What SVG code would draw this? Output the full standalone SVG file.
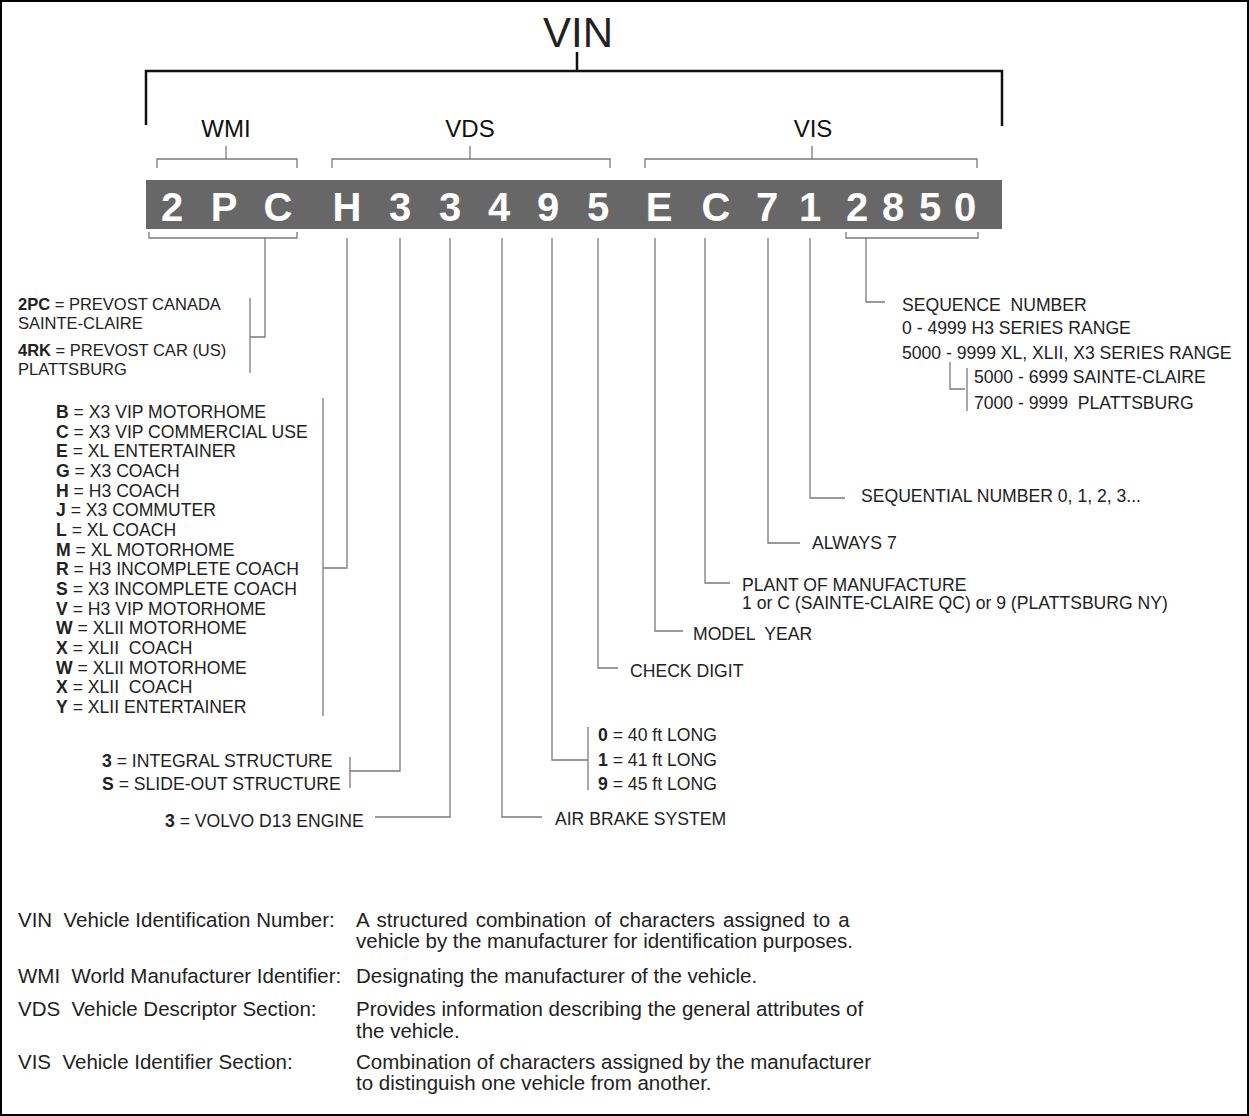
<svg xmlns="http://www.w3.org/2000/svg" width="1249" height="1116" viewBox="0 0 1249 1116">
<defs>
<style>
.t{font-family:"Liberation Sans",Arial,sans-serif;fill:#222;}
.s{font-size:17.6px;}
.w{font-size:16.5px;}
.d{font-size:20.5px;}
.h{font-size:24px;fill:#111;}
.b{font-weight:bold;}
.p{white-space:pre;}
.c{font-family:"Liberation Sans",Arial,sans-serif;font-size:40px;font-weight:bold;fill:#fff;text-anchor:middle;}
.ln{fill:none;stroke:#7a7a7a;stroke-width:1.3;}
.bk{fill:none;stroke:#111;stroke-width:2.5;}
</style>
</defs>
<rect x="1" y="1" width="1247" height="1114" fill="#fff" stroke="#000" stroke-width="2"/>

<g id="vin-header">
<text class="t" x="578" y="47" font-size="42" text-anchor="middle" fill="#111">VIN</text>
<path class="bk" d="M146,125 V71 H1002 V126 M577,52 V71"/>
</g>

<g id="section-labels">
<text class="t h" x="226" y="137" text-anchor="middle">WMI</text>
<text class="t h" x="470" y="137" text-anchor="middle">VDS</text>
<text class="t h" x="813" y="137" text-anchor="middle">VIS</text>
<path class="ln" d="M157,168 V159 H297 V168 M226,146 V159"/>
<path class="ln" d="M332,168 V159 H610 V168 M470,146 V159"/>
<path class="ln" d="M645,168 V159 H977 V168 M812,146 V159"/>
</g>

<g id="vin-bar">
<rect x="146" y="180" width="856" height="49" fill="#676767"/>
<text class="c" x="172" y="221">2</text>
<text class="c" x="224" y="221">P</text>
<text class="c" x="278" y="221">C</text>
<text class="c" x="347" y="221">H</text>
<text class="c" x="400" y="221">3</text>
<text class="c" x="450" y="221">3</text>
<text class="c" x="499" y="221">4</text>
<text class="c" x="548" y="221">9</text>
<text class="c" x="598" y="221">5</text>
<text class="c" x="659" y="221">E</text>
<text class="c" x="716" y="221">C</text>
<text class="c" x="767" y="221">7</text>
<text class="c" x="810" y="221">1</text>
<text class="c" x="857" y="221">2</text>
<text class="c" x="893" y="221">8</text>
<text class="c" x="930" y="221">5</text>
<text class="c" x="965" y="221">0</text>
</g>

<g id="connectors">
<path class="ln" d="M149,232 V238 H297 V232 M265,238 V337 H250 M250,298 V373"/>
<path class="ln" d="M347,238 V568 H323 M323,398 V716"/>
<path class="ln" d="M400,238 V771 H350 M350,757 V788"/>
<path class="ln" d="M450,238 V817 H375"/>
<path class="ln" d="M502,238 V817 H542"/>
<path class="ln" d="M552,238 V760 H588 M588,727 V790"/>
<path class="ln" d="M598,238 V668 H618"/>
<path class="ln" d="M655,238 V631 H683"/>
<path class="ln" d="M705,238 V583 H730"/>
<path class="ln" d="M768,238 V543 H800"/>
<path class="ln" d="M810,238 V498 H845"/>
<path class="ln" d="M846,232 V238 H978 V232 M866,238 V302 H885"/>
<path class="ln" d="M950,362 V389 H965 M967,368 V411"/>
</g>

<g id="wmi-values">
<text class="t w" x="18" y="310"><tspan class="b">2PC</tspan> = PREVOST CANADA</text>
<text class="t w" x="18" y="328.5">SAINTE-CLAIRE</text>
<text class="t w" x="18" y="356"><tspan class="b">4RK</tspan> = PREVOST CAR (US)</text>
<text class="t w" x="18" y="374.5">PLATTSBURG</text>
</g>

<g id="model-values">
<text class="t s" x="56" y="418"><tspan class="b">B</tspan> = X3 VIP MOTORHOME</text>
<text class="t s" x="56" y="437.7"><tspan class="b">C</tspan> = X3 VIP COMMERCIAL USE</text>
<text class="t s" x="56" y="457.3"><tspan class="b">E</tspan> = XL ENTERTAINER</text>
<text class="t s" x="56" y="477"><tspan class="b">G</tspan> = X3 COACH</text>
<text class="t s" x="56" y="496.7"><tspan class="b">H</tspan> = H3 COACH</text>
<text class="t s" x="56" y="516.3"><tspan class="b">J</tspan> = X3 COMMUTER</text>
<text class="t s" x="56" y="536"><tspan class="b">L</tspan> = XL COACH</text>
<text class="t s" x="56" y="555.7"><tspan class="b">M</tspan> = XL MOTORHOME</text>
<text class="t s" x="56" y="575.3"><tspan class="b">R</tspan> = H3 INCOMPLETE COACH</text>
<text class="t s" x="56" y="595"><tspan class="b">S</tspan> = X3 INCOMPLETE COACH</text>
<text class="t s" x="56" y="614.7"><tspan class="b">V</tspan> = H3 VIP MOTORHOME</text>
<text class="t s" x="56" y="634.3"><tspan class="b">W</tspan> = XLII MOTORHOME</text>
<text class="t s p" x="56" y="654"><tspan class="b">X</tspan> = XLII  COACH</text>
<text class="t s" x="56" y="673.7"><tspan class="b">W</tspan> = XLII MOTORHOME</text>
<text class="t s p" x="56" y="693.3"><tspan class="b">X</tspan> = XLII  COACH</text>
<text class="t s" x="56" y="713"><tspan class="b">Y</tspan> = XLII ENTERTAINER</text>
</g>

<g id="structure-values">
<text class="t s" x="102" y="767"><tspan class="b">3</tspan> = INTEGRAL STRUCTURE</text>
<text class="t s" x="102" y="790"><tspan class="b">S</tspan> = SLIDE-OUT STRUCTURE</text>
</g>
<g id="engine-value">
<text class="t s" x="165" y="827"><tspan class="b">3</tspan> = VOLVO D13 ENGINE</text>
</g>
<g id="brake-value">
<text class="t s" x="555" y="825">AIR BRAKE SYSTEM</text>
</g>
<g id="length-values">
<text class="t s" x="598" y="741"><tspan class="b">0</tspan> = 40 ft LONG</text>
<text class="t s" x="598" y="766"><tspan class="b">1</tspan> = 41 ft LONG</text>
<text class="t s" x="598" y="790"><tspan class="b">9</tspan> = 45 ft LONG</text>
</g>
<g id="check-digit">
<text class="t s" x="630" y="677">CHECK DIGIT</text>
</g>
<g id="model-year">
<text class="t s p" x="693" y="640">MODEL  YEAR</text>
</g>
<g id="plant">
<text class="t s" x="742" y="591">PLANT OF MANUFACTURE</text>
<text class="t s" x="742" y="609">1 or C (SAINTE-CLAIRE QC) or 9 (PLATTSBURG NY)</text>
</g>
<g id="always-7">
<text class="t s" x="812" y="549">ALWAYS 7</text>
</g>
<g id="sequential">
<text class="t s" x="861" y="502">SEQUENTIAL NUMBER 0, 1, 2, 3...</text>
</g>
<g id="sequence-number">
<text class="t s p" x="902" y="311">SEQUENCE  NUMBER</text>
<text class="t s" x="902" y="334">0 - 4999 H3 SERIES RANGE</text>
<text class="t s" x="902" y="359">5000 - 9999 XL, XLII, X3 SERIES RANGE</text>
<text class="t s" x="974" y="383">5000 - 6999 SAINTE-CLAIRE</text>
<text class="t s p" x="974" y="409">7000 - 9999  PLATTSBURG</text>
</g>

<g id="definitions">
<text class="t d p" x="18" y="927">VIN  Vehicle Identification Number:</text>
<text class="t d" x="356" y="927" word-spacing="2.3">A structured combination of characters assigned to a</text>
<text class="t d" x="356" y="948">vehicle by the manufacturer for identification purposes.</text>
<text class="t d p" x="18" y="983">WMI  World Manufacturer Identifier:</text>
<text class="t d" x="356" y="983">Designating the manufacturer of the vehicle.</text>
<text class="t d p" x="18" y="1016">VDS  Vehicle Descriptor Section:</text>
<text class="t d" x="356" y="1016">Provides information describing the general attributes of</text>
<text class="t d" x="356" y="1037.5">the vehicle.</text>
<text class="t d p" x="18" y="1069">VIS  Vehicle Identifier Section:</text>
<text class="t d" x="356" y="1069">Combination of characters assigned by the manufacturer</text>
<text class="t d" x="356" y="1090">to distinguish one vehicle from another.</text>
</g>
</svg>
